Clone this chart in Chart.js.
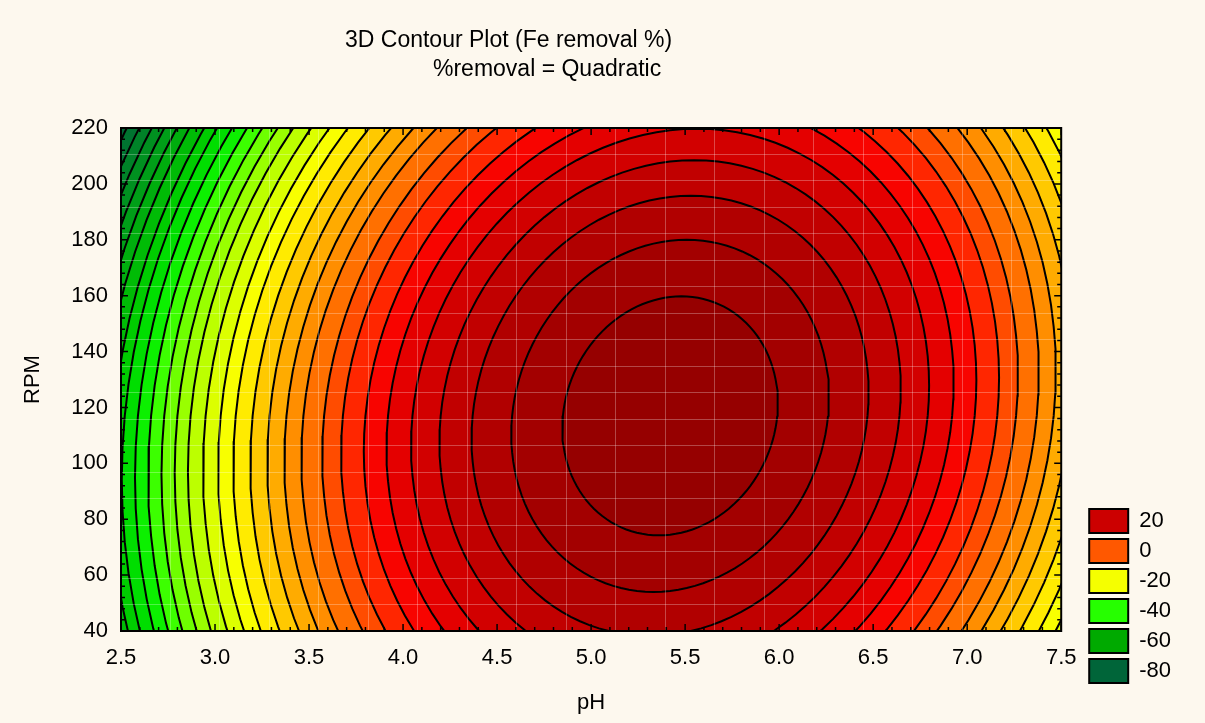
<!DOCTYPE html>
<html>
<head>
<meta charset="utf-8">
<title>3D Contour Plot (Fe removal %)</title>
<script src="https://cdn.jsdelivr.net/npm/chart.js@4.4.1/dist/chart.umd.min.js"></script>
<style>
  html, body { margin: 0; padding: 0; background: #fdf8ee; }
  canvas { display: block; }
</style>
</head>
<body>
<canvas id="contour" width="1205" height="723"></canvas>
<script>
const titleLines = ['3D Contour Plot (Fe removal %)', '%removal = Quadratic'];

const phTicks = [2.5, 3.0, 3.5, 4.0, 4.5, 5.0, 5.5, 6.0, 6.5, 7.0, 7.5];
const rpmTicks = [40, 60, 80, 100, 120, 140, 160, 180, 200, 220];

// contour levels, innermost first
const contourLevels = [32, 28, 24, 20, 16, 12, 8, 4, 0, -4, -8, -12, -16, -20,
  -24, -28, -32, -36, -40, -44, -48, -52, -56, -60, -64, -68, -72, -76, -80, -84];
// half width of each contour (pH units) along the row through the peak
const contourRadiusPH = [0.57, 0.84, 1.05, 1.22, 1.37, 1.50, 1.62, 1.74, 1.84, 1.95,
  2.04, 2.13, 2.22, 2.31, 2.39, 2.47, 2.55, 2.62, 2.69, 2.76, 2.83, 2.90, 2.96,
  3.03, 3.09, 3.15, 3.21, 3.27, 3.33, 3.39];
const peakPH = 5.42;
const peakRPM = 117;
const rpmPerPH = 75;     // vertical stretch of the contours
const ridgeShift = 0.0014; // pH shift of the contour centres per RPM (tilt)
// colour inside each contour (and outside the next inner one)
const fillColors = ['#960000', '#a30000', '#b10000', '#c10000', '#d20000', '#e40000',
  '#f80400', '#ff2600', '#ff4c00', '#ff7000', '#ff8e00', '#ffab00', '#ffc900',
  '#ffeb00', '#f8ff00', '#dcff00', '#bcff00', '#99ff00', '#6eff00', '#3cff00',
  '#0cf000', '#00de00', '#00cc00', '#00bb06', '#00ad0e', '#009e18', '#009020',
  '#008228', '#007430', '#006633'];

const legendLevels = [20, 0, -20, -40, -60, -80];
const legendColors = ['#cc0000', '#ff5800', '#f5ff00', '#26ff00', '#00aa00', '#006539'];

const meshSteps = 19;

const FONT = "'Liberation Sans', Arial, Helvetica, sans-serif";
Chart.defaults.font.family = FONT;
Chart.defaults.color = '#000';

function contourPoints(r) {
  const pts = [];
  const n = 120;
  for (let i = 0; i <= n; i++) {
    const t = (i / n) * Math.PI * 2;
    const dy = r * rpmPerPH * Math.sin(t);
    pts.push({ x: peakPH + r * Math.cos(t) + ridgeShift * dy, y: peakRPM + dy });
  }
  return pts;
}

const datasets = contourLevels.map((level, k) => ({
  label: String(level),
  data: contourPoints(contourRadiusPH[k]),
  showLine: true,
  fill: 'shape',
  backgroundColor: fillColors[k],
  borderColor: '#000',
  borderWidth: 2,
  pointRadius: 0,
  pointHoverRadius: 0,
  tension: 0,
  clip: 0
}));

function meshTicks(min, max) {
  const out = [];
  for (let i = 1; i < meshSteps; i++) out.push({ value: min + (max - min) * i / meshSteps });
  return out;
}

const frame = {
  id: 'frame',
  afterDraw(chart) {
    const { ctx, chartArea: a, scales: { x, y } } = chart;
    ctx.save();
    ctx.strokeStyle = '#000';
    ctx.lineWidth = 1.5;
    ctx.beginPath();
    for (let i = 0; i <= 50; i++) {
      const px = x.getPixelForValue(phTicks[0] + i * 0.1);
      const len = i % 5 === 0 ? 7 : 4;
      ctx.moveTo(px, a.bottom); ctx.lineTo(px, a.bottom - len);
      ctx.moveTo(px, a.top); ctx.lineTo(px, a.top + len);
    }
    for (let i = 0; i <= 45; i++) {
      const py = y.getPixelForValue(rpmTicks[0] + i * 4);
      const len = i % 5 === 0 ? 7 : 4;
      ctx.moveTo(a.left, py); ctx.lineTo(a.left + len, py);
      ctx.moveTo(a.right, py); ctx.lineTo(a.right - len, py);
    }
    ctx.stroke();
    ctx.lineWidth = 2;
    ctx.strokeRect(a.left, a.top, a.right - a.left, a.bottom - a.top);

    ctx.fillStyle = '#000';
    ctx.font = '23px ' + FONT;
    ctx.textAlign = 'left';
    ctx.textBaseline = 'middle';
    ctx.fillText(titleLines[0], 345, 41);
    ctx.fillText(titleLines[1], 433, 70);
    ctx.restore();
  }
};

const meshGrid = { z: 1, color: 'rgba(255,255,255,0.28)', lineWidth: 1, drawTicks: false };

new Chart(document.getElementById('contour'), {
  type: 'scatter',
  data: { datasets },
  plugins: [frame],
  options: {
    responsive: false,
    animation: false,
    events: [],
    layout: { padding: { top: 128, left: 0, right: 24, bottom: 34 } },
    plugins: {
      tooltip: { enabled: false },
      legend: {
        position: 'right',
        align: 'end',
        labels: {
          boxWidth: 39,
          boxHeight: 24,
          padding: 6,
          color: '#000',
          font: { size: 22 },
          generateLabels: () => legendLevels.map((v, i) => ({
            text: String(v),
            fillStyle: legendColors[i],
            strokeStyle: '#000',
            lineWidth: 2,
            hidden: false,
            index: i
          }))
        }
      }
    },
    scales: {
      x: {
        type: 'linear',
        min: phTicks[0],
        max: phTicks[phTicks.length - 1],
        afterBuildTicks: s => { s.ticks = phTicks.map(v => ({ value: v })); },
        afterFit: s => { s.height = 58; },
        grid: { display: false, drawTicks: false },
        border: { display: false },
        ticks: { font: { size: 22 }, padding: 14, maxRotation: 0, autoSkip: false,
          callback: v => Number(v).toFixed(1) },
        title: { display: true, text: 'pH', font: { size: 22 }, padding: { top: 0, bottom: -27 } }
      },
      y: {
        type: 'linear',
        min: rpmTicks[0],
        max: rpmTicks[rpmTicks.length - 1],
        afterBuildTicks: s => { s.ticks = rpmTicks.map(v => ({ value: v })); },
        afterFit: s => { s.width = 121; },
        grid: { display: false, drawTicks: false },
        border: { display: false },
        ticks: { font: { size: 22 }, padding: 13, autoSkip: false },
        title: { display: true, text: 'RPM', font: { size: 22 }, padding: { top: 20, bottom: 0 } }
      },
      meshX: {
        type: 'linear',
        axis: 'x',
        position: 'top',
        min: phTicks[0],
        max: phTicks[phTicks.length - 1],
        afterBuildTicks: s => { s.ticks = meshTicks(s.min, s.max); },
        afterFit: s => { s.height = 0; },
        ticks: { display: false },
        border: { display: false },
        grid: meshGrid
      },
      meshY: {
        type: 'linear',
        axis: 'y',
        position: 'right',
        min: rpmTicks[0],
        max: rpmTicks[rpmTicks.length - 1],
        afterBuildTicks: s => { s.ticks = meshTicks(s.min, s.max); },
        afterFit: s => { s.width = 22; },
        ticks: { display: false },
        border: { display: false },
        grid: meshGrid
      }
    }
  }
});
</script>
</body>
</html>
